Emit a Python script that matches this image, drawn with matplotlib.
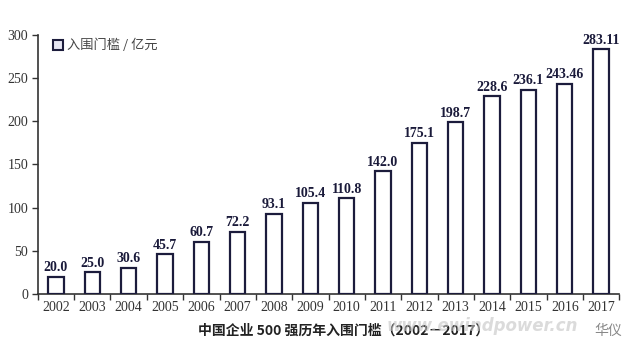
import matplotlib
matplotlib.use("Agg")
import matplotlib.pyplot as plt
from matplotlib.patches import Patch
import numpy as np

years = ["2002", "2003", "2004", "2005", "2006", "2007", "2008", "2009",
         "2010", "2011", "2012", "2013", "2014", "2015", "2016", "2017"]
values = [20.0, 25.0, 30.6, 45.7, 60.7, 72.2, 93.1, 105.4,
          110.8, 142.0, 175.1, 198.7, 228.6, 236.1, 243.46, 283.11]
labels = ["20.0", "25.0", "30.6", "45.7", "60.7", "72.2", "93.1", "105.4",
          "110.8", "142.0", "175.1", "198.7", "228.6", "236.1", "243.46", "283.11"]
yticks = [0, 50, 100, 150, 200, 250, 300]
legend_label = "入围门槛 / 亿元"
title = "中国企业 500 强历年入围门槛（2002－2017）"

serif = ["Liberation Serif", "DejaVu Serif"]
cjk = ["Noto Sans CJK SC", "DejaVu Sans"]
edge = "#1c1c3c"

fig = plt.figure(figsize=(6.3, 3.55), dpi=100)
ax = fig.add_axes([0.060, 0.172, 0.923, 0.730])

x = np.arange(len(years))
ax.bar(x, values, width=0.42, color="white", edgecolor=edge, linewidth=1.6, zorder=3)
for xi, v, lab in zip(x, values, labels):
    ax.text(xi, v + 3, lab, ha="center", va="bottom", fontsize=10,
            fontweight="bold", family=serif, color="#1a1a3a")

ax.set_xlim(-0.5, len(years) - 0.5)
ax.set_ylim(0, 300)
ax.set_yticks(yticks)
ax.set_yticklabels([str(t) for t in yticks], family=serif, fontsize=10, color="#333333")
ax.set_xticks(x)
ax.set_xticklabels(years, family=serif, fontsize=10, color="#333333")
ax.set_xticks(np.arange(-0.5, len(years), 1.0), minor=True)
ax.tick_params(axis="x", which="major", length=0, pad=5)
ax.tick_params(axis="x", which="minor", length=4, width=1, color="#333333", direction="out")
ax.tick_params(axis="y", length=4, width=1, color="#333333", direction="out", pad=3)
for s in ["top", "right"]:
    ax.spines[s].set_visible(False)
for s in ["left", "bottom"]:
    ax.spines[s].set_color("#333333")
    ax.spines[s].set_linewidth(1.2)

leg = ax.legend(handles=[Patch(facecolor="#e6e6f2", edgecolor=edge, linewidth=1.5, label=legend_label)],
                loc="upper left", bbox_to_anchor=(0.005, 1.03), frameon=False,
                handlelength=0.8, handleheight=0.8, handletextpad=0.3,
                prop={"family": cjk, "size": 9.5})
for t in leg.get_texts():
    t.set_color("#444444")

fig.text(0.545, 0.068, title, ha="center", va="center", fontsize=10,
         fontweight="bold", family=cjk, color="#222222")
fig.text(0.765, 0.082, "www.ewindpower.cn", ha="center", va="center", fontsize=12,
         fontweight="bold", style="italic", family=["DejaVu Sans"], color="#c4c4c4", alpha=0.6)
fig.text(0.965, 0.068, "华仪", ha="center", va="center", fontsize=10,
         family=cjk, color="#888888")

fig.savefig("out.png", dpi=100)
